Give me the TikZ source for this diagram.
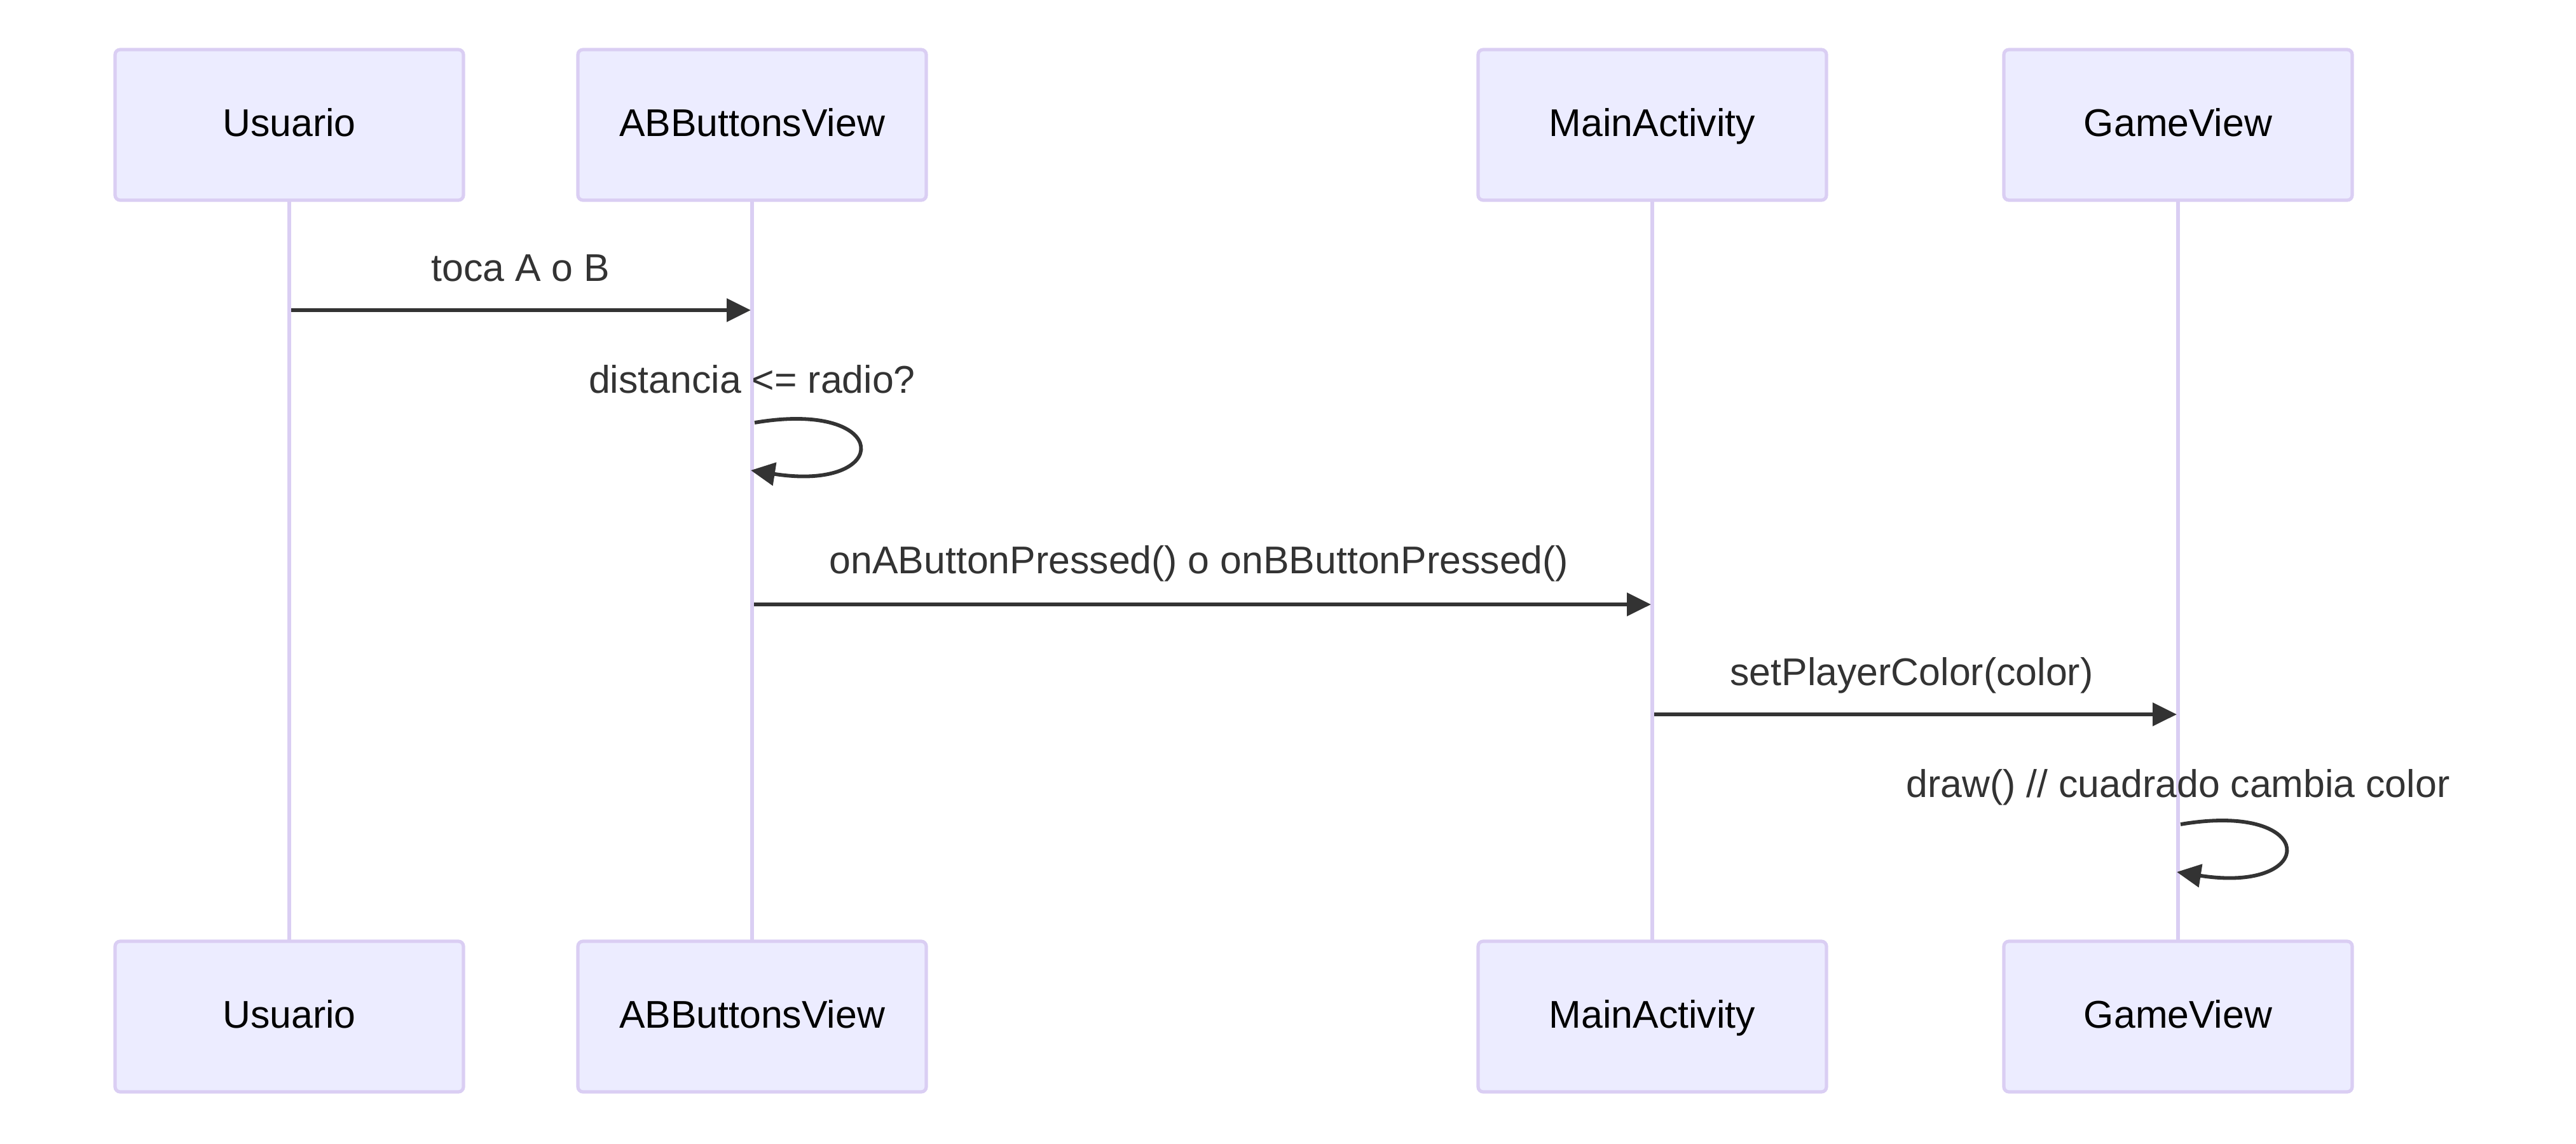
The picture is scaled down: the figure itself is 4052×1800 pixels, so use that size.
\documentclass[tikz,border=0pt]{standalone}
\usepackage{fontspec}
\setmainfont{Liberation Sans}
\usetikzlibrary{arrows.meta}
\definecolor{actfill}{HTML}{ECECFF}
\definecolor{actborder}{HTML}{DACEF3}
\definecolor{msg}{HTML}{333333}
\begin{document}
\begin{tikzpicture}[x=0.25pt,y=-0.25pt,
  actor/.style={draw=actborder,fill=actfill,line width=1.3pt,rounded corners=2pt,
    minimum width=137pt,minimum height=59.25pt,inner sep=0pt,
    text height=12.3pt,text depth=3.2pt,
    font=\fontsize{15.2pt}{18pt}\selectfont,text=black},
  life/.style={draw=actborder,line width=1.6pt},
  msgline/.style={draw=msg,line width=1.45pt,-{Triangle[length=9.5pt,width=9pt]}},
  msglabel/.style={font=\fontsize{15.2pt}{18pt}\selectfont,text=msg,inner sep=0pt,
    text height=11pt,text depth=3.2pt}]
\useasboundingbox (0,0) rectangle (4052,1800);
% lifelines first (behind boxes)
\coordinate (l1t) at (455,315); \coordinate (l1b) at (455,1481);
\coordinate (l2t) at (1183,315); \coordinate (l2b) at (1183,1481);
\coordinate (l3t) at (2599,315); \coordinate (l3b) at (2599,1481);
\coordinate (l4t) at (3426,315); \coordinate (l4b) at (3426,1481);
\draw[life] (l1t) -- (l1b);
\draw[life] (l2t) -- (l2b);
\draw[life] (l3t) -- (l3b);
\draw[life] (l4t) -- (l4b);
% actors
\node[actor] (t1) at (455,196.5) {Usuario};
\node[actor] (t2) at (1183,196.5) {ABButtonsView};
\node[actor] (t3) at (2599,196.5) {MainActivity};
\node[actor] (t4) at (3426,196.5) {GameView};
\node[actor] (b1) at (455,1599.5) {Usuario};
\node[actor] (b2) at (1183,1599.5) {ABButtonsView};
\node[actor] (b3) at (2599,1599.5) {MainActivity};
\node[actor] (b4) at (3426,1599.5) {GameView};
% message 1
\coordinate (m1a) at (458,488); \coordinate (m1b) at (1181,488);
\draw[msgline] (m1a) -- (m1b);
\node[msglabel] (m1l) at (819,427) {toca A o B};
% self loop 1
\coordinate (s1a) at (1187,665); \coordinate (s1b) at (1181,740);
\node[msglabel] (s1l) at (1183,603) {distancia <= radio?};
\draw[msgline] (s1a) .. controls (1405,628) and (1405,775) .. (s1b);
% message 2
\coordinate (m2a) at (1186,951); \coordinate (m2b) at (2597,951);
\draw[msgline] (m2a) -- (m2b);
\node[msglabel] (m2l) at (1886,887) {onAButtonPressed() o onBButtonPressed()};
% message 3
\coordinate (m3a) at (2602,1124); \coordinate (m3b) at (3424,1124);
\draw[msgline] (m3a) -- (m3b);
\node[msglabel] (m3l) at (3007,1063) {setPlayerColor(color)};
% self loop 2
\coordinate (s2a) at (3430,1297); \coordinate (s2b) at (3424,1372);
\node[msglabel] (s2l) at (3426,1239) {draw() // cuadrado cambia color};
\draw[msgline] (s2a) .. controls (3648,1260) and (3648,1407) .. (s2b);
\end{tikzpicture}
\end{document}
